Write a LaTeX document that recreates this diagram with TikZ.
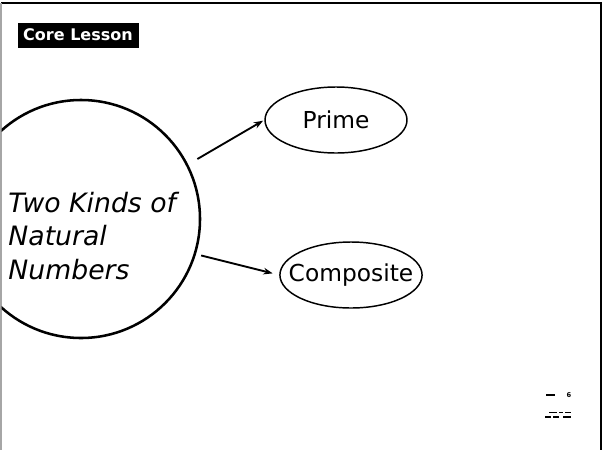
\documentclass[tikz,border=0pt]{standalone}
\usepackage{fontspec}
\setmainfont{DejaVu Sans}
\usetikzlibrary{shapes.geometric,arrows.meta}

\tikzset{every picture/.style={line width=0.75pt}}
\tikzset{
  bubble/.style={draw,ellipse,line width=1.1pt,minimum width=106.5pt,minimum height=49.5pt,inner sep=0pt,font=\fontsize{17.5}{20}\selectfont},
  link/.style={line width=1.4pt,-{Stealth[length=7pt,width=5pt]}},
}

\begin{document}
\begin{tikzpicture}[x=0.75pt,y=0.75pt,yscale=-1,xscale=1]
\useasboundingbox (0,0) rectangle (605,450);

%Straight Lines [frame]
\draw [line width=1.5pt] (1,3) -- (601,3) -- (601,450) ;
\draw [gray!70, line width=0.9pt] (1,3) -- (1,450) ;

% Text Node [badge]
\node [fill=black, text=white, anchor=north west, inner sep=0pt, minimum width=90.75pt, minimum height=18.75pt, font=\fontsize{12}{13}\selectfont\bfseries] (badge) at (17,22) {Core Lesson};

%Shape: Circle [clipped by frame]
\begin{scope}
\clip (1.5,0) rectangle (605,450);
\node [draw, circle, line width=1.9pt, minimum size=178.5pt, inner sep=0pt] (kinds) at (81,219) {};
\end{scope}

% Text Node
\node [anchor=west, align=left, inner sep=0pt, font=\fontsize{20}{25}\selectfont\itshape] (kindstext) at (8,236) {Two Kinds of\\Natural\\Numbers};

%Shape: Ellipse
\node [bubble] (prime) at (336,120) {Prime};
%Shape: Ellipse
\node [bubble, inner xsep=-9pt] (comp) at (351,275) {Composite};

%Straight Lines
\draw [link, shorten <=8pt, shorten >=1pt] (kinds.27) -- (prime.west) ;
%Straight Lines
\draw [link, shorten <=4pt, shorten >=5pt] (kinds.-17) -- (comp.west) ;

%Straight Lines [page mark]
\draw [line width=0.8pt] (546,395) -- (555,395) ;
\node [inner sep=0pt, font=\fontsize{5}{6}\selectfont\bfseries] (pagemark) at (569,395) {6};
\draw [line width=0.6pt] (549,412) -- (557,412) (559,412) -- (563,412) (565,412) -- (571,412) ;
\draw [line width=0.8pt] (545,417) -- (551,417) (553,417) -- (559,417) (563,417) -- (571,417) ;
\end{tikzpicture}
\end{document}
